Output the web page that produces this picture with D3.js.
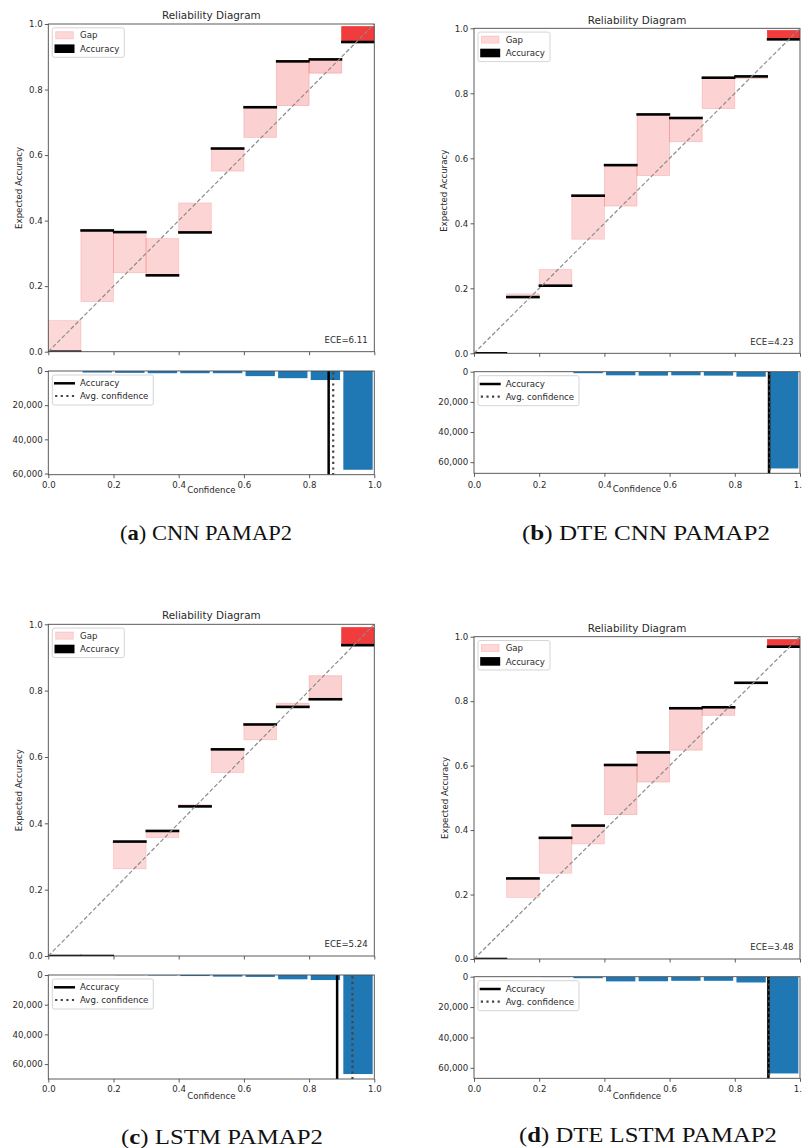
<!DOCTYPE html>
<html>
<head>
<meta charset="utf-8">
<script src="https://cdn.jsdelivr.net/npm/d3@7"></script>
<style>
  body { margin: 0; background: #fff; }
  svg { display: block; }
  text { font-family: "DejaVu Sans", sans-serif; }
</style>
</head>
<body>
<svg id="fig" width="802" height="1148"></svg>
<script>
// ---- bins and ticks ----
const binStarts = [0.0, 0.1, 0.2, 0.3, 0.4, 0.5, 0.6, 0.7, 0.8, 0.9];
const binWidth = 0.1;
const histBarWidth = 0.09;
const accuracyTicks = [0.0, 0.2, 0.4, 0.6, 0.8, 1.0];
const confidenceTicks = [0.0, 0.2, 0.4, 0.6, 0.8, 1.0];
const countTicks = [0, 20000, 40000, 60000];

// ---- (a) CNN PAMAP2 ----
const cnnAccuracy   = [0.000, 0.370, 0.365, 0.233, 0.364, 0.620, 0.746, 0.886, 0.892, 0.945];
const cnnConfidence = [0.095, 0.153, 0.241, 0.345, 0.454, 0.551, 0.654, 0.751, 0.850, 0.992];
const cnnCounts     = [10, 900, 1100, 1300, 1300, 1300, 3000, 4200, 5300, 57800];

// ---- (b) DTE CNN PAMAP2 ----
const dteCnnAccuracy   = [0.000, 0.173, 0.208, 0.485, 0.579, 0.735, 0.724, 0.848, 0.852, 0.966];
const dteCnnConfidence = [0.000, 0.183, 0.258, 0.351, 0.453, 0.547, 0.651, 0.753, 0.846, 0.993];
const dteCnnCounts     = [0, 60, 200, 1000, 2400, 2600, 2400, 2600, 3300, 64150];

// ---- (c) LSTM PAMAP2 ----
const lstmAccuracy   = [0.000, 0.000, 0.345, 0.377, 0.451, 0.623, 0.698, 0.751, 0.774, 0.937];
const lstmConfidence = [0.000, 0.000, 0.263, 0.357, 0.456, 0.553, 0.652, 0.762, 0.845, 0.990];
const lstmCounts     = [0, 0, 100, 300, 700, 1100, 1300, 2900, 3400, 66700];

// ---- (d) DTE LSTM PAMAP2 ----
const dteLstmAccuracy   = [0.000, 0.250, 0.376, 0.414, 0.602, 0.641, 0.778, 0.781, 0.857, 0.969];
const dteLstmConfidence = [0.000, 0.191, 0.266, 0.357, 0.448, 0.549, 0.648, 0.756, 0.855, 0.991];
const dteLstmCounts     = [0, 100, 250, 1000, 3100, 3000, 2700, 2700, 3800, 63700];

// ---- summary values per model ----
const panelLetters   = ["a", "b", "c", "d"];
const panelNames     = ["CNN PAMAP2", "DTE CNN PAMAP2", "LSTM PAMAP2", "DTE LSTM PAMAP2"];
const eceValues      = [6.11, 4.23, 5.24, 3.48];
const avgAccuracy    = [0.860, 0.905, 0.886, 0.903];
const avgConfidence  = [0.874, 0.907, 0.933, 0.905];

// ---- layout of each sub-figure ----
const layouts = [
  { left: 48.3, right: 374.3, top: 24.0,  bottom: 351.7, histTop: 371.0, histBottom: 474.7,
    titleY: 18.5, ylabelX: 22.0, tickY: 488.0, xlabelY: 493.0, captionX: 206, captionY: 540, captionW: 172 },
  { left: 474.0, right: 800.0, top: 28.3, bottom: 353.3, histTop: 371.7, histBottom: 473.3,
    titleY: 23.5, ylabelX: 446.5, tickY: 488.5, xlabelY: 492.0, captionX: 646, captionY: 540, captionW: 248 },
  { left: 48.3, right: 374.3, top: 624.3, bottom: 956.0, histTop: 975.0, histBottom: 1079.0,
    titleY: 619.3, ylabelX: 21.5, tickY: 1092.0, xlabelY: 1098.5, captionX: 222, captionY: 1144, captionW: 202 },
  { left: 474.0, right: 800.0, top: 636.7, bottom: 959.0, histTop: 976.7, histBottom: 1078.3,
    titleY: 632.0, ylabelX: 447.5, tickY: 1092.5, xlabelY: 1099.0, captionX: 648, captionY: 1142, captionW: 258 }
];

const panels = [
  { acc: cnnAccuracy,     conf: cnnConfidence,     counts: cnnCounts },
  { acc: dteCnnAccuracy,  conf: dteCnnConfidence,  counts: dteCnnCounts },
  { acc: lstmAccuracy,    conf: lstmConfidence,    counts: lstmCounts },
  { acc: dteLstmAccuracy, conf: dteLstmConfidence, counts: dteLstmCounts }
];

const FONT = 8.6;
const TITLE_FONT = 10.4;
const SPINE = "#4a4a4a";
const TEXT = "#2a2a2a";
const svg = d3.select("#fig");

function styleAxis(sel) {
  sel.select(".domain").remove();
  sel.selectAll(".tick line").attr("stroke", SPINE).attr("stroke-width", 0.9);
  sel.selectAll(".tick text").attr("fill", TEXT).style("font-size", FONT + "px")
     .style("font-family", "DejaVu Sans, sans-serif");
}

function drawPanel(i) {
  const L = layouts[i];
  const P = panels[i];
  const g = svg.append("g");
  const x = d3.scaleLinear().domain([0, 1]).range([L.left, L.right]);
  const y = d3.scaleLinear().domain([0, 1]).range([L.bottom, L.top]);
  const maxCount = d3.max(P.counts);
  const yc = d3.scaleLinear().domain([0, maxCount * 1.05]).range([L.histTop, L.histBottom]);

  const bins = binStarts.map((s, k) => ({
    start: s, acc: P.acc[k], conf: P.conf[k], count: P.counts[k]
  }));

  // clip regions for the two axes
  const clipTop = "clipTop" + i, clipHist = "clipHist" + i;
  const defs = svg.append("defs");
  defs.append("clipPath").attr("id", clipTop).append("rect")
    .attr("x", L.left).attr("y", L.top).attr("width", L.right - L.left).attr("height", L.bottom - L.top);
  defs.append("clipPath").attr("id", clipHist).append("rect")
    .attr("x", L.left).attr("y", L.histTop).attr("width", L.right - L.left).attr("height", L.histBottom - L.histTop);

  // ===== reliability diagram =====
  const rel = g.append("g").attr("clip-path", `url(#${clipTop})`);
  const gapColor = d => `rgba(240,60,60,${0.2 + 0.8 * d.count / maxCount})`;
  rel.selectAll("rect.gap").data(bins.filter(d => d.count > 0 && d.acc !== d.conf)).join("rect")
    .attr("class", "gap")
    .attr("x", d => x(d.start))
    .attr("width", d => x(d.start + binWidth) - x(d.start))
    .attr("y", d => y(Math.max(d.acc, d.conf)))
    .attr("height", d => y(Math.min(d.acc, d.conf)) - y(Math.max(d.acc, d.conf)))
    .attr("fill", gapColor)
    .attr("stroke", gapColor)
    .attr("stroke-width", 0.8);

  rel.selectAll("rect.acc").data(bins).join("rect")
    .attr("class", "acc")
    .attr("x", d => x(d.start) - 0.6)
    .attr("width", d => x(d.start + binWidth) - x(d.start) + 1.2)
    .attr("y", d => y(d.acc) - 1.3)
    .attr("height", 2.6)
    .attr("fill", "#000");

  rel.append("line")
    .attr("x1", x(0)).attr("y1", y(0)).attr("x2", x(1)).attr("y2", y(1))
    .attr("stroke", "#8c8c8c").attr("stroke-width", 1.2).attr("stroke-dasharray", "4.2,2.2");

  g.append("text")
    .attr("x", x(0.98)).attr("y", y(0.02) - 2.2)
    .attr("text-anchor", "end").attr("fill", TEXT).style("font-size", FONT + "px")
    .text("ECE=" + d3.format(".2f")(eceValues[i]));

  // axes of the reliability diagram
  const ay = g.append("g").attr("transform", `translate(${L.left},0)`)
    .call(d3.axisLeft(y).tickValues(accuracyTicks).tickFormat(d3.format(".1f")).tickSize(3.5).tickPadding(2.2));
  styleAxis(ay);
  const ax = g.append("g").attr("transform", `translate(0,${L.bottom})`)
    .call(d3.axisBottom(x).tickValues(confidenceTicks).tickFormat("").tickSize(3.5));
  styleAxis(ax);

  g.append("rect").attr("x", L.left).attr("y", L.top)
    .attr("width", L.right - L.left).attr("height", L.bottom - L.top)
    .attr("fill", "none").attr("stroke", SPINE).attr("stroke-width", 0.9);

  g.append("text")
    .attr("x", (L.left + L.right) / 2).attr("y", L.titleY)
    .attr("text-anchor", "middle").attr("fill", TEXT).style("font-size", TITLE_FONT + "px")
    .text("Reliability Diagram");

  g.append("text")
    .attr("transform", `translate(${L.ylabelX},${(L.top + L.bottom) / 2}) rotate(-90)`)
    .attr("text-anchor", "middle").attr("fill", TEXT).style("font-size", FONT + "px")
    .text("Expected Accuracy");

  // legend of the reliability diagram
  const lg = g.append("g").attr("transform", `translate(${L.left + 4},${L.top + 3.8})`);
  lg.append("rect").attr("width", 72).attr("height", 29.5).attr("rx", 2)
    .attr("fill", "rgba(255,255,255,0.8)").attr("stroke", "#d0d0d0").attr("stroke-width", 0.9);
  lg.append("rect").attr("x", 3.4).attr("y", 3.9).attr("width", 17.6).attr("height", 7.2)
    .attr("fill", "rgba(240,60,60,0.2)").attr("stroke", "rgba(240,60,60,0.2)").attr("stroke-width", 0.8);
  lg.append("text").attr("x", 27.7).attr("y", 10.6).attr("fill", TEXT).style("font-size", FONT + "px").text("Gap");
  lg.append("rect").attr("x", 3.4).attr("y", 17.8).attr("width", 17.6).attr("height", 6.2)
    .attr("fill", "#000").attr("stroke", "#000").attr("stroke-width", 2.4);
  lg.append("text").attr("x", 27.7).attr("y", 24.4).attr("fill", TEXT).style("font-size", FONT + "px").text("Accuracy");

  // ===== confidence histogram =====
  const hist = g.append("g").attr("clip-path", `url(#${clipHist})`);
  hist.selectAll("rect.bar").data(bins.filter(d => d.count > 0)).join("rect")
    .attr("class", "bar")
    .attr("x", d => x(d.start + binWidth / 2 - histBarWidth / 2))
    .attr("width", d => x(d.start + binWidth / 2 + histBarWidth / 2) - x(d.start + binWidth / 2 - histBarWidth / 2))
    .attr("y", yc(0))
    .attr("height", d => yc(d.count) - yc(0))
    .attr("fill", "#1f77b4");

  hist.append("line")
    .attr("x1", x(avgAccuracy[i])).attr("x2", x(avgAccuracy[i]))
    .attr("y1", L.histTop).attr("y2", L.histBottom)
    .attr("stroke", "#000").attr("stroke-width", 2.5);
  hist.append("line")
    .attr("x1", x(avgConfidence[i])).attr("x2", x(avgConfidence[i]))
    .attr("y1", L.histTop + 1.2).attr("y2", L.histBottom)
    .attr("stroke", "#444").attr("stroke-width", 2.2).attr("stroke-dasharray", "2.2,3.4");

  const hy = g.append("g").attr("transform", `translate(${L.left},0)`)
    .call(d3.axisLeft(yc).tickValues(countTicks).tickFormat(d3.format(",")).tickSize(3.5).tickPadding(2.2));
  styleAxis(hy);
  const hx = g.append("g").attr("transform", `translate(0,${L.histBottom})`)
    .call(d3.axisBottom(x).tickValues(confidenceTicks).tickFormat(d3.format(".1f")).tickSize(3.5));
  styleAxis(hx);
  hx.selectAll(".tick text").attr("y", L.tickY - L.histBottom).attr("dy", null);

  g.append("rect").attr("x", L.left).attr("y", L.histTop)
    .attr("width", L.right - L.left).attr("height", L.histBottom - L.histTop)
    .attr("fill", "none").attr("stroke", SPINE).attr("stroke-width", 0.9);

  g.append("text")
    .attr("x", (L.left + L.right) / 2).attr("y", L.xlabelY)
    .attr("text-anchor", "middle").attr("fill", TEXT).style("font-size", FONT + "px")
    .text("Confidence");

  // legend of the histogram
  const hl = g.append("g").attr("transform", `translate(${L.left + 4},${L.histTop + 4})`);
  hl.append("rect").attr("width", 101).attr("height", 30).attr("rx", 2)
    .attr("fill", "rgba(255,255,255,0.8)").attr("stroke", "#d0d0d0").attr("stroke-width", 0.9);
  hl.append("line").attr("x1", 1.7).attr("x2", 22.7).attr("y1", 8.3).attr("y2", 8.3)
    .attr("stroke", "#000").attr("stroke-width", 2.5);
  hl.append("text").attr("x", 27.7).attr("y", 11.4).attr("fill", TEXT).style("font-size", FONT + "px").text("Accuracy");
  hl.append("line").attr("x1", 2.8).attr("x2", 22.7).attr("y1", 21).attr("y2", 21)
    .attr("stroke", "#444").attr("stroke-width", 2.2).attr("stroke-dasharray", "2.2,3.4");
  hl.append("text").attr("x", 27.7).attr("y", 24.1).attr("fill", TEXT).style("font-size", FONT + "px").text("Avg. confidence");

  // caption
  const cap = svg.append("text")
    .attr("x", L.captionX).attr("y", L.captionY)
    .attr("text-anchor", "middle")
    .attr("textLength", L.captionW).attr("lengthAdjust", "spacingAndGlyphs")
    .style("font-family", "'Liberation Serif', 'DejaVu Serif', serif")
    .style("font-size", "22px").attr("fill", "#111");
  cap.append("tspan").text("(");
  cap.append("tspan").style("font-weight", "bold").text(panelLetters[i]);
  cap.append("tspan").text(") " + panelNames[i]);
}

panels.forEach((_, i) => drawPanel(i));
</script>
</body>
</html>
